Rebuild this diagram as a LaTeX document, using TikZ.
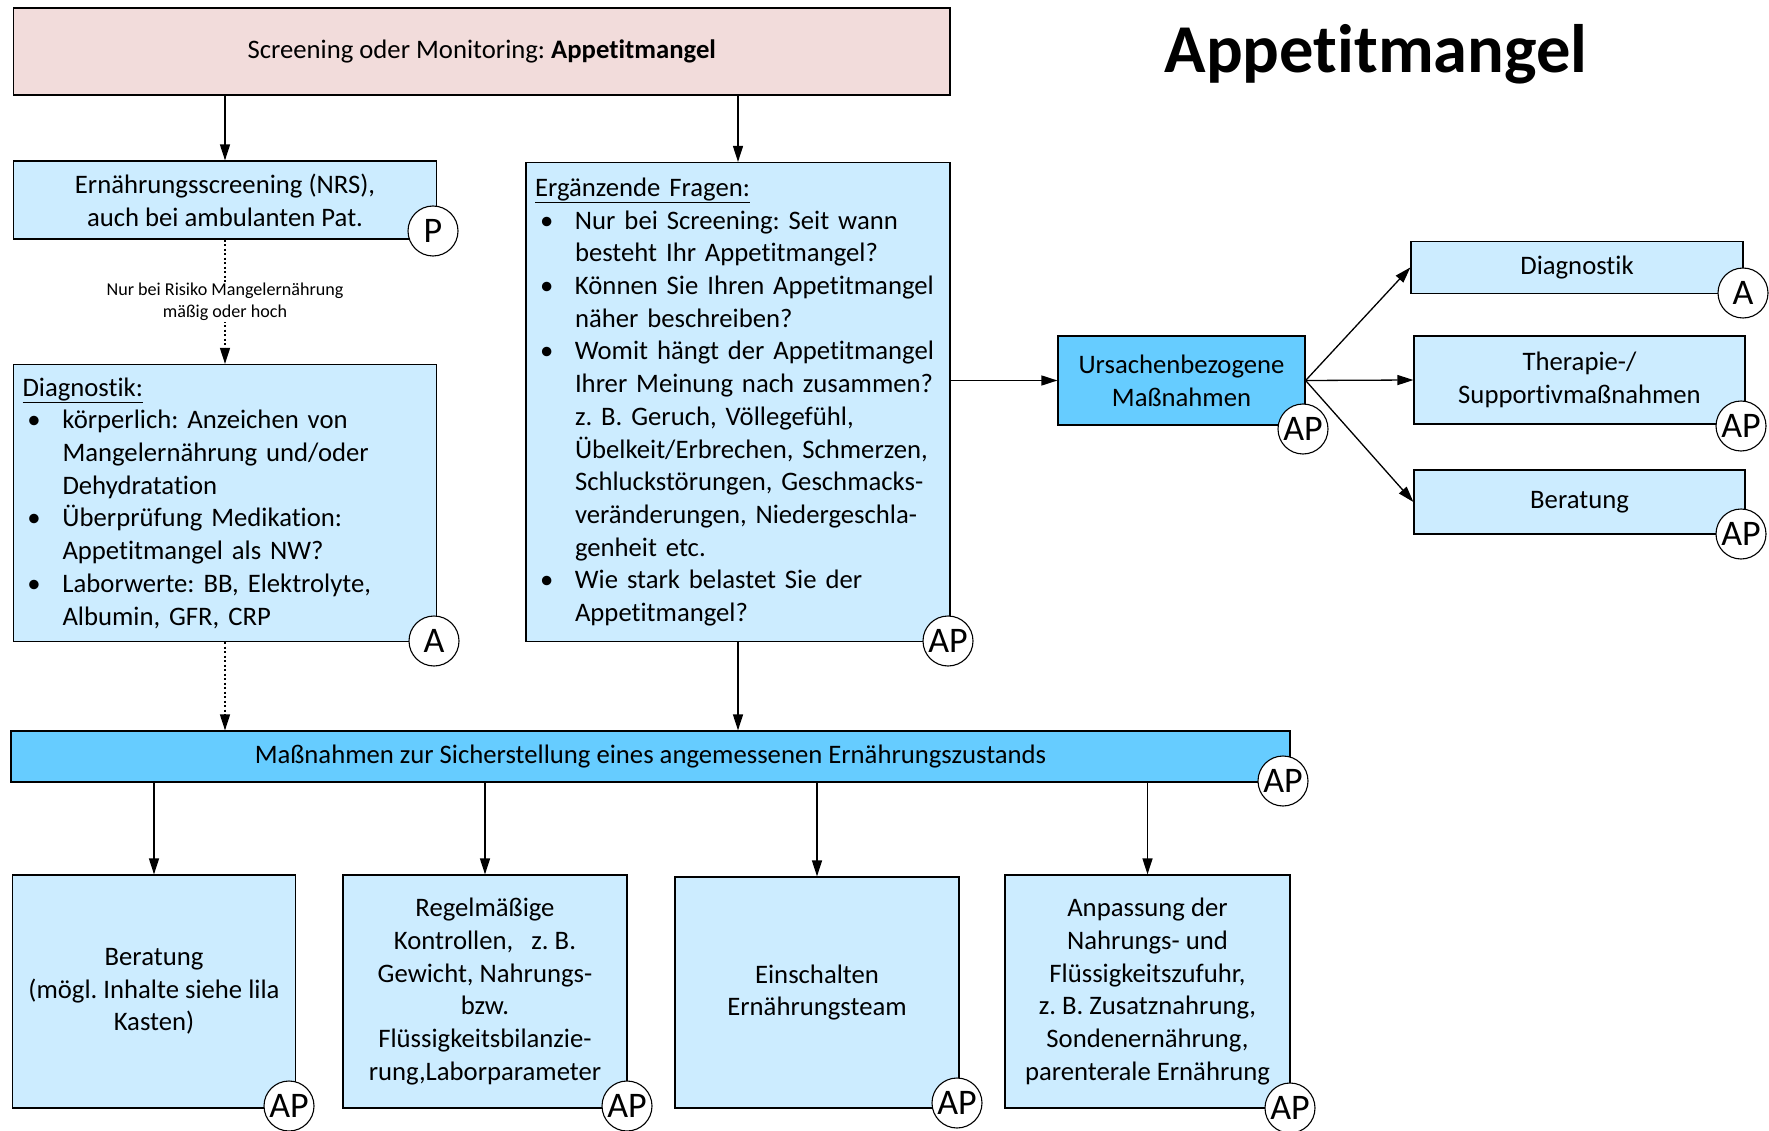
\documentclass[tikz,border=0pt]{standalone}
\usepackage{fontspec}
\setmainfont{Carlito}[Ligatures={NoCommon}]
\usetikzlibrary{arrows.meta}
\frenchspacing

% list helpers: bullet line and continuation line
\newcommand\bli[1]{\makebox[40pt][l]{\hspace*{5pt}\textbullet}#1}
\newcommand\cli[1]{\hspace*{40pt}#1}
\newcommand\bodyfont{\fontsize{26.7}{32.7}\selectfont}

\definecolor{pinkfill}{HTML}{F2DCDB}
\definecolor{lightblue}{HTML}{CCECFF}
\definecolor{midblue}{HTML}{66CCFF}

\tikzset{
  box/.style={draw=black, line width=1.2pt, fill=lightblue, inner sep=0pt,
    align=center, font=\bodyfont},
  listbox/.style={box, align=left, inner xsep=9pt},
  badge/.style={circle, draw=black, line width=1.1pt, fill=white, inner sep=0pt,
    minimum size=50pt, font=\fontsize{36}{36}\selectfont},
  arr/.style={-{Triangle[length=16pt,width=10pt]}, line width=1.3pt},
  dotarr/.style={arr, dash pattern=on 2pt off 2.5pt},
}

\begin{document}
\begin{tikzpicture}[x=1pt,y=-1pt]
\useasboundingbox (0,0) rectangle (1769,1131);

% title
\node[anchor=base, font=\fontsize{68.5}{68.5}\selectfont\bfseries] (title) at (1376,73) {Appetitmangel};

% top row
\node[box, fill=pinkfill, minimum width=936.5pt, minimum height=87pt] (top) at (481.75,51.5)
  {Screening oder Monitoring: \textbf{Appetitmangel}};

\node[box, minimum width=423pt, minimum height=78pt] (nrs) at (225,200)
  {Ernährungsscreening (NRS),\\auch bei ambulanten Pat.};

\node[listbox, text width=405pt, minimum width=423pt, minimum height=277pt] (diag) at (225,503)
  {\underline{Diagnostik:}\\
   \bli{körperlich: Anzeichen von}\\
   \cli{Mangelernährung und/oder}\\
   \cli{Dehydratation}\\
   \bli{Überprüfung Medikation:}\\
   \cli{Appetitmangel als NW?}\\
   \bli{Laborwerte: BB, Elektrolyte,}\\
   \cli{Albumin, GFR, CRP}};

\node[listbox, text width=406pt, minimum width=424pt, minimum height=479pt] (erg) at (738,402)
  {\underline{Ergänzende Fragen:}\\
   \bli{Nur bei Screening: Seit wann}\\
   \cli{besteht Ihr Appetitmangel?}\\
   \bli{Können Sie Ihren Appetitmangel}\\
   \cli{näher beschreiben?}\\
   \bli{Womit hängt der Appetitmangel}\\
   \cli{Ihrer Meinung nach zusammen?}\\
   \cli{z. B. Geruch, Völlegefühl,}\\
   \cli{Übelkeit/Erbrechen, Schmerzen,}\\
   \cli{Schluckstörungen, Geschmacks-}\\
   \cli{veränderungen, Niedergeschla-}\\
   \cli{genheit etc.}\\
   \bli{Wie stark belastet Sie der}\\
   \cli{Appetitmangel?}};

% cause-related branch
\node[box, fill=midblue, minimum width=247pt, minimum height=89pt] (urs) at (1181.5,380.5)
  {Ursachenbezogene\\Maßnahmen};
\node[box, minimum width=332pt, minimum height=52pt] (rdiag) at (1577,267.4) {Diagnostik};
\node[box, minimum width=331pt, minimum height=88pt] (rther) at (1579.5,380) {Therapie-/\\Supportivmaßnahmen};
\node[box, minimum width=331pt, minimum height=64pt] (rber) at (1579.5,502) {Beratung};

% nutrition measures
\node[box, fill=midblue, minimum width=1279pt, minimum height=51pt] (wide) at (650.5,756.5)
  {Maßnahmen zur Sicherstellung eines angemessenen Ernährungszustands};

\node[box, minimum width=283pt, minimum height=233pt] (b1) at (154,991.5)
  {Beratung\\(mögl. Inhalte siehe lila\\Kasten)};
\node[box, minimum width=284pt, minimum height=233pt] (b2) at (485,991.5)
  {Regelmäßige\\Kontrollen, \ \ z. B.\\Gewicht, Nahrungs-\\bzw.\\Flüssigkeitsbilanzie-\\rung,Laborparameter};
\node[box, minimum width=284pt, minimum height=231pt] (b3) at (817,992.5)
  {Einschalten\\Ernährungsteam};
\node[box, minimum width=285pt, minimum height=233pt] (b4) at (1147.5,991.5)
  {Anpassung der\\Nahrungs- und\\Flüssigkeitszufuhr,\\z. B. Zusatznahrung,\\Sondenernährung,\\parenterale Ernährung};

% connectors
\draw[arr] (nrs.north |- top.south) -- (nrs.north);
\draw[arr] (erg.north |- top.south) -- (erg.north);
\draw[dotarr] (nrs.south) -- node[fill=white, inner sep=1pt, align=center,
    font=\fontsize{18.1}{22.5}\selectfont] (risk) {Nur bei Risiko Mangelernährung\\mäßig oder hoch} (diag.north);
\draw[dotarr] (diag.south) -- (diag.south |- wide.north);
\draw[arr] (erg.south) -- (erg.south |- wide.north);
\draw[arr] (erg.east |- urs.west) -- (urs.west);
\draw[arr] (urs.east) -- (rdiag.west);
\draw[arr] (urs.east) -- (rther.west);
\draw[arr] (urs.east) -- (rber.west);
\foreach \b in {b1,b2,b3,b4} {
  \draw[arr] (\b.north |- wide.south) -- (\b.north);
}

% responsibility badges
\node[badge] (bnrs) at (433,231) {P};
\node[badge] (bdiag) at (434,641) {A};
\node[badge] (berg) at (948,641) {AP};
\node[badge] (burs) at (1303,429) {AP};
\node[badge] (brdiag) at (1743,293) {A};
\node[badge] (brther) at (1741,426) {AP};
\node[badge] (brber) at (1741,534) {AP};
\node[badge] (bwide) at (1283,781) {AP};
\node[badge] (bb1) at (289,1106) {AP};
\node[badge] (bb2) at (627,1106) {AP};
\node[badge] (bb3) at (957,1103) {AP};
\node[badge] (bb4) at (1290,1108) {AP};
\end{tikzpicture}
\end{document}
